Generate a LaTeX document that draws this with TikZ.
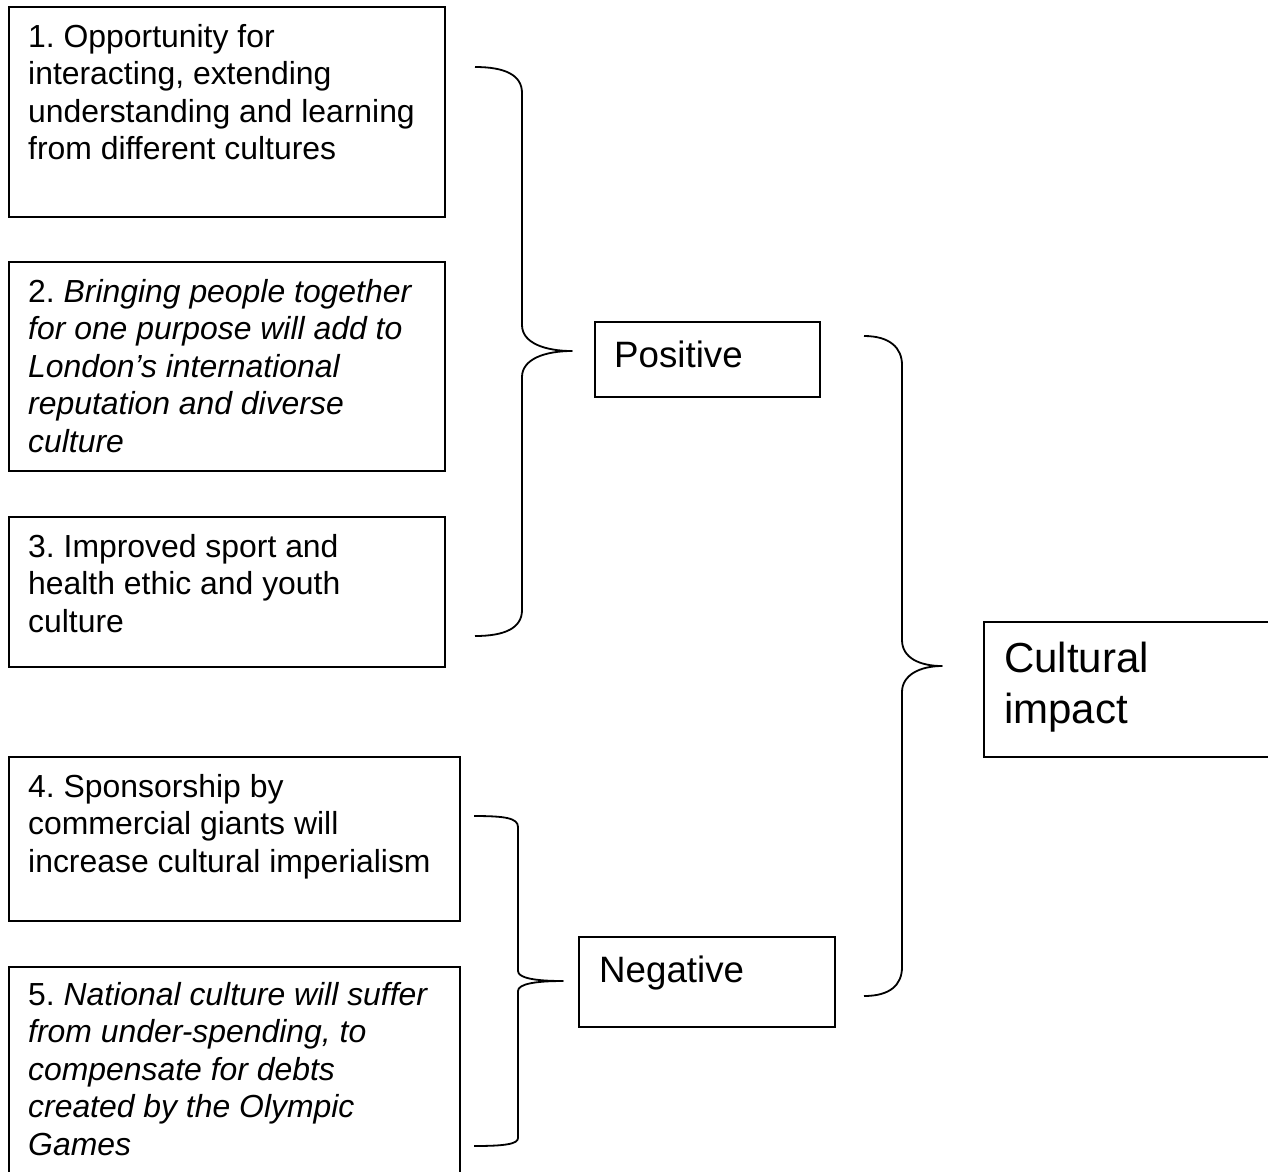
\documentclass[tikz,border=0pt]{standalone}
\usepackage{fontspec}
\setmainfont{Liberation Sans}
\frenchspacing
\begin{document}
\begin{tikzpicture}[x=1pt,y=-1pt,
  box/.style={draw, line width=2pt, inner sep=0pt, anchor=north west},
  txt/.style={inner sep=0pt, anchor=base west, font=\fontsize{31.9}{37.5}\selectfont},
  mid/.style={inner sep=0pt, anchor=base west, font=\fontsize{36.7}{44}\selectfont},
  big/.style={inner sep=0pt, anchor=base west, font=\fontsize{42}{51}\selectfont},
  brace/.style={draw, line width=1.8pt, line join=round}]
\clip (0,0) rectangle (1268,1171);
% boxes
\node[box, minimum width=436pt, minimum height=210pt] (b1) at (8,6) {};
\node[box, minimum width=436pt, minimum height=209pt] (b2) at (8,261) {};
\node[box, minimum width=436pt, minimum height=150pt] (b3) at (8,516) {};
\node[box, minimum width=451pt, minimum height=164pt] (b4) at (8,756) {};
\node[box, minimum width=451pt, minimum height=230pt] (b5) at (8,966) {};
\node[box, minimum width=225pt, minimum height=75pt] (pos) at (594,321) {};
\node[box, minimum width=256pt, minimum height=90pt] (neg) at (578,936) {};
\node[box, minimum width=320pt, minimum height=135pt] (ci) at (983,621) {};
% texts
\node[txt] (t1) at (28,47) {\parbox[t]{420pt}{1. Opportunity for\\interacting, extending\\understanding and learning\\from different cultures}};
\node[txt] (t2) at (28,302) {\parbox[t]{420pt}{2. \itshape Bringing people together\\for one purpose will add to\\London’s international\\reputation and diverse\\culture}};
\node[txt] (t3) at (28,557) {\parbox[t]{420pt}{3. Improved sport and\\health ethic and youth\\culture}};
\node[txt] (t4) at (28,797) {\parbox[t]{430pt}{4. Sponsorship by\\commercial giants will\\increase cultural imperialism}};
\node[txt] (t5) at (28,1005) {\parbox[t]{430pt}{5. \itshape National culture will suffer\\from under-spending, to\\compensate for debts\\created by the Olympic\\Games}};
\node[mid] (tpos) at (614,367) {Positive};
\node[mid] (tneg) at (599,982) {Negative};
\node[big] (tci) at (1004,672) {\parbox[t]{250pt}{Cultural\\impact}};
% brace coordinates
\coordinate (p1) at (475,67);
\coordinate (p2) at (572,351);
\coordinate (p3) at (475,636);
\coordinate (n1) at (474,816);
\coordinate (n2) at (563,981);
\coordinate (n3) at (474,1146);
\coordinate (c1) at (864,336);
\coordinate (c2) at (942,666);
\coordinate (c3) at (864,996);
% braces
\path[brace] (p1) .. controls (505,67) and (522,75) .. (522,93) -- (522,325)
  .. controls (522,343) and (545,351) .. (p2)
  .. controls (545,351) and (522,359) .. (522,377) -- (522,610)
  .. controls (522,628) and (505,636) .. (p3);
\path[brace] (n1) .. controls (505,816) and (518,818) .. (518,827) -- (518,971)
  .. controls (518,978) and (535,981) .. (n2)
  .. controls (535,981) and (518,984) .. (518,991) -- (518,1138)
  .. controls (518,1144) and (505,1146) .. (n3);
\path[brace] (c1) .. controls (890,336) and (902,348) .. (902,365) -- (902,640)
  .. controls (902,658) and (920,666) .. (c2)
  .. controls (920,666) and (902,675) .. (902,692) -- (902,967)
  .. controls (902,985) and (890,996) .. (c3);
\end{tikzpicture}
\end{document}
